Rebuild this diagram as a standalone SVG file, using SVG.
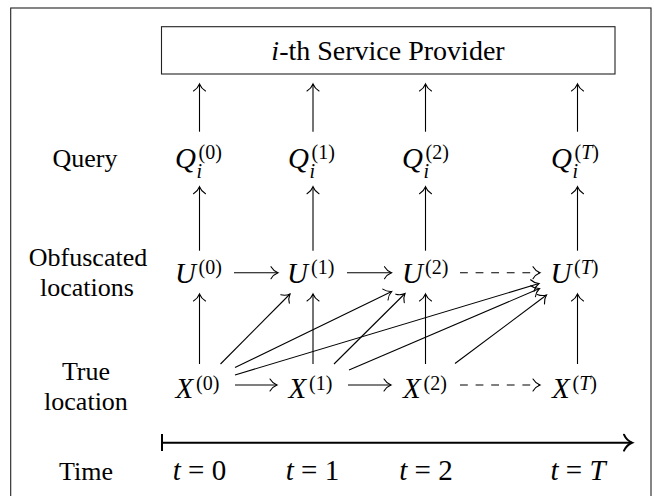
<svg xmlns="http://www.w3.org/2000/svg" width="654" height="496" viewBox="0 0 654 496">
<style>
.lbl{font-family:"Liberation Serif","Times New Roman",serif;font-size:26px;fill:#000;text-anchor:middle}
.m{font-family:"Liberation Serif","Times New Roman",serif;font-size:29px;font-style:italic;fill:#000}
.s{font-family:"Liberation Serif","Times New Roman",serif;font-size:20px;fill:#000}
.it{font-style:italic}
.ln{stroke:#000;stroke-width:1.1;fill:none;marker-end:url(#to)}
.dash{stroke-dasharray:7.8 7.8}
</style>
<defs>
<marker id="to" markerUnits="userSpaceOnUse" markerWidth="16" markerHeight="16" refX="0" refY="0" viewBox="-9 -8 11 16" orient="auto" overflow="visible">
<path d="M-7,-6 C-5,-2.5 -2,-0.8 0,0 C-2,0.8 -5,2.5 -7,6" fill="none" stroke="#000" stroke-width="1.1" stroke-linecap="round"/>
</marker>
<marker id="big" markerUnits="userSpaceOnUse" markerWidth="16" markerHeight="20" refX="0" refY="0" viewBox="-10 -10 12 20" orient="auto" overflow="visible">
<path d="M-8,-8 C-6,-3.5 -2.5,-1 0,0 C-2.5,1 -6,3.5 -8,8" fill="none" stroke="#000" stroke-width="2" stroke-linecap="round"/>
</marker>
</defs>

<rect id="frame" x="10.7" y="8" width="640.3" height="500" fill="none" stroke="#222" stroke-width="1.1"/>

<g id="provider">
<rect x="161.5" y="26.7" width="453.5" height="47.3" fill="#fff" stroke="#222" stroke-width="1.1"/>
<text class="lbl" style="font-size:28px" x="388" y="59.5"><tspan class="it">i</tspan>-th Service Provider</text>
</g>

<g id="row-labels">
<text id="lbl-query" class="lbl" x="85" y="167">Query</text>
<g id="lbl-obf"><text class="lbl" x="88" y="266">Obfuscated</text><text class="lbl" x="87" y="296">locations</text></g>
<g id="lbl-true"><text class="lbl" x="86" y="380">True</text><text class="lbl" x="86" y="410">location</text></g>
<text id="lbl-time" class="lbl" x="86" y="480">Time</text>
</g>

<g id="Q0"><text class="m" x="175" y="168">Q</text><text class="s" x="198.5" y="159">(0)</text><text class="s it" x="196.5" y="178">i</text></g>
<g id="Q1"><text class="m" x="288" y="168">Q</text><text class="s" x="311.5" y="159">(1)</text><text class="s it" x="309.5" y="178">i</text></g>
<g id="Q2"><text class="m" x="402" y="168">Q</text><text class="s" x="425.5" y="159">(2)</text><text class="s it" x="423.5" y="178">i</text></g>
<g id="QT"><text class="m" x="551" y="168">Q</text><text class="s" x="574.5" y="159">(<tspan class="it">T</tspan>)</text><text class="s it" x="572.5" y="178">i</text></g>

<g id="U0"><text class="m" x="175" y="283">U</text><text class="s" x="198.5" y="274">(0)</text></g>
<g id="U1"><text class="m" x="287" y="283">U</text><text class="s" x="311" y="274">(1)</text></g>
<g id="U2"><text class="m" x="402" y="283">U</text><text class="s" x="425" y="274">(2)</text></g>
<g id="UT"><text class="m" x="550.5" y="283">U</text><text class="s" x="574" y="274">(<tspan class="it">T</tspan>)</text></g>

<g id="X0"><text class="m" x="175.5" y="398">X</text><text class="s" x="196" y="389.5">(0)</text></g>
<g id="X1"><text class="m" x="288.5" y="398">X</text><text class="s" x="309" y="389.5">(1)</text></g>
<g id="X2"><text class="m" x="403" y="398">X</text><text class="s" x="423.5" y="389.5">(2)</text></g>
<g id="XT"><text class="m" x="552" y="398">X</text><text class="s" x="572.5" y="389.5">(<tspan class="it">T</tspan>)</text></g>

<g id="time-labels">
<text class="lbl" style="font-size:29px" x="199.5" y="480"><tspan class="it">t</tspan> = 0</text>
<text class="lbl" style="font-size:29px" x="312.5" y="480"><tspan class="it">t</tspan> = 1</text>
<text class="lbl" style="font-size:29px" x="426" y="480"><tspan class="it">t</tspan> = 2</text>
<text class="lbl" style="font-size:29px" x="578" y="480"><tspan class="it">t</tspan> = <tspan class="it">T</tspan></text>
</g>

<g id="connectors">
<line class="ln" x1="199.5" y1="131.7" x2="199.5" y2="84"/>
<line class="ln" x1="313" y1="131.7" x2="313" y2="84"/>
<line class="ln" x1="425.5" y1="131.7" x2="425.5" y2="84"/>
<line class="ln" x1="577.5" y1="131.7" x2="577.5" y2="84"/>

<line class="ln" x1="199.5" y1="250.7" x2="199.5" y2="186.7"/>
<line class="ln" x1="313" y1="250.7" x2="313" y2="186.7"/>
<line class="ln" x1="425.5" y1="250.7" x2="425.5" y2="186.7"/>
<line class="ln" x1="577.5" y1="250.7" x2="577.5" y2="186.7"/>

<line class="ln" x1="199.5" y1="364" x2="199.5" y2="294"/>
<line class="ln" x1="313" y1="364" x2="313" y2="294"/>
<line class="ln" x1="425.5" y1="364" x2="425.5" y2="294"/>
<line class="ln" x1="577.5" y1="364" x2="577.5" y2="294"/>

<line class="ln" x1="234" y1="272.7" x2="278" y2="272.7"/>
<line class="ln" x1="347" y1="272.7" x2="391.5" y2="272.7"/>
<line class="ln dash" x1="460" y1="272.7" x2="540" y2="272.7"/>

<line class="ln" x1="235" y1="385" x2="277" y2="385"/>
<line class="ln" x1="348" y1="385" x2="391" y2="385"/>
<line class="ln dash" x1="460" y1="385" x2="540" y2="385"/>

<line class="ln" x1="220.5" y1="364" x2="290" y2="294"/>
<line class="ln" x1="235" y1="367.5" x2="391.7" y2="291.5"/>
<line class="ln" x1="235" y1="375" x2="539" y2="283.5"/>
<line class="ln" x1="334" y1="364" x2="405" y2="293.5"/>
<line class="ln" x1="349" y1="370" x2="539.5" y2="288.5"/>
<line class="ln" x1="455" y1="363.5" x2="546.5" y2="295"/>

<g id="time-axis">
<line x1="162" y1="442.7" x2="632" y2="442.7" stroke="#000" stroke-width="2" marker-end="url(#big)"/>
<line x1="162" y1="434" x2="162" y2="451" stroke="#000" stroke-width="2"/>
</g>
</g>
</svg>
